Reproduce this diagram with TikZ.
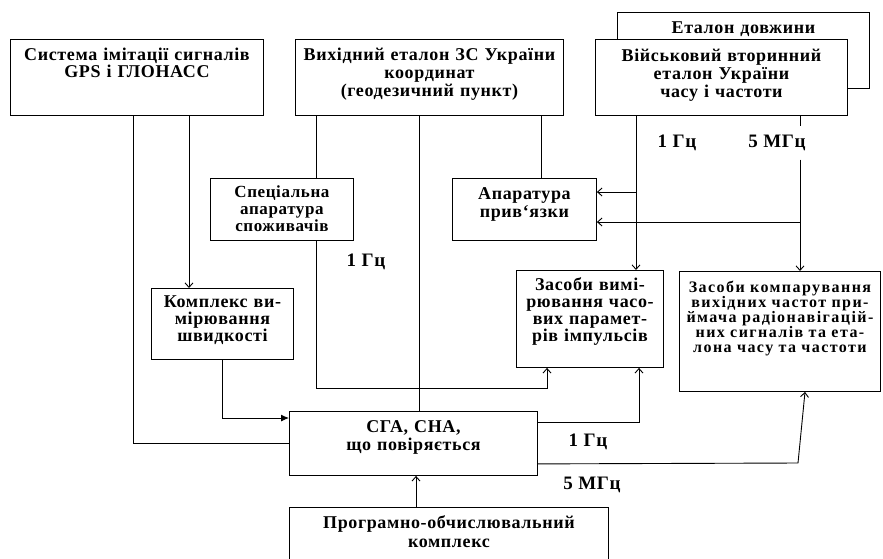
\documentclass[tikz,border=0pt]{standalone}
\usepackage{fontspec}
\setmainfont{Liberation Serif}[LetterSpace=3.5]
\newfontfamily\widefont{Liberation Serif}[LetterSpace=9]
\usetikzlibrary{arrows.meta}

\begin{document}
\begin{tikzpicture}
    [%%%%%%%%%%%%%%%%%%%%%%%%%%%%%%
        x=1pt, y=-1pt,
        box/.style={rectangle,draw=black,line width=0.9pt,fill=white,anchor=north west,
                    align=center,inner xsep=2pt,inner ysep=0pt},
        txt/.style={font=\bfseries\fontsize{18}{#1}\selectfont},
        txts/.style={font=\bfseries\fontsize{17}{#1}\selectfont},
        txtw/.style={font=\widefont\bfseries\fontsize{16}{#1}\selectfont},
        freq/.style={font=\bfseries\fontsize{19}{20}\selectfont,inner sep=1pt},
        wire/.style={line width=0.9pt},
        arr/.style={wire,-{Straight Barb[length=4.5pt,width=8pt]}},
        arrf/.style={wire,-{Latex[length=8pt,width=7pt]}}
    ]%%%%%%%%%%%%%%%%%%%%%%%%%%%%%%
\clip (0,0) rectangle (883,558);
\fill[white] (0,0) rectangle (883,558);

% top row
\node[box,txt=17,text width=249pt,text height=21pt,text depth=55pt] (sys) at (10,39)
    {Система імітації сигналів\\GPS і ГЛОНАСС};
\node[box,txt=18,text width=264pt,text height=21pt,text depth=55pt] (etalon) at (295,39)
    {Вихідний еталон ЗС України\\координат\\(геодезичний пункт)};
\node[box,txt=17,text width=248pt,text height=21pt,text depth=55pt] (len) at (617,12)
    {Еталон довжини};
\node[box,txt=18,text width=248pt,text height=22pt,text depth=54pt] (mil) at (595,39)
    {Військовий вторинний\\еталон України\\часу і частоти};

% middle
\node[box,txts=17,text width=139pt,text height=19pt,text depth=43pt] (spec) at (210,178)
    {Спеціальна\\апаратура\\споживачів};
\node[box,txt=18,text width=140pt,text height=21pt,text depth=41pt] (apar) at (452,178)
    {Апаратура\\прив‘язки};
\node[box,txt=17,text width=138pt,text height=19pt,text depth=52pt] (kompl) at (151,288)
    {Комплекс ви-\\мірювання\\швидкості};
\node[box,txt=17,text width=143pt,text height=20pt,text depth=77pt] (zvym) at (516,270)
    {Засоби вимі-\\рювання часо-\\вих парамет-\\рів імпульсів};
\node[box,txtw=15,inner xsep=1pt,text width=199pt,text height=21pt,text depth=99pt] (zkomp) at (679,271)
    {Засоби компарування\\вихідних частот при-\\ймача радіонавігацій-\\них сигналів та ета-\\лона часу та частоти};

% bottom
\node[box,txt=18,text width=244pt,text height=21pt,text depth=43pt] (sga) at (289,411)
    {СГА, СНА,\\що повіряється};
\node[box,txt=19,text width=315pt,text height=21pt,text depth=60pt] (prog) at (289,507)
    {Програмно-обчислювальний\\комплекс};

% labels
\node[freq] (hzA) at (366,262) {1 Гц};
\node[freq] (hzB) at (677,143) {1 Гц};
\node[freq,minimum height=33pt] (mhzA) at (777,143) {5 МГц};
\node[freq] (hzC) at (588,442) {1 Гц};
\node[freq] (mhzB) at (592,485) {5 МГц};

% columns and bends
\coordinate (cA) at (133,0);
\coordinate (cB) at (189,0);
\coordinate (cC) at (316,0);
\coordinate (cD) at (419,0);
\coordinate (cE) at (541,0);
\coordinate (cF) at (636,0);
\coordinate (cG) at (800,0);
\coordinate (cH) at (639,0);
\coordinate (cI) at (805,0);
\coordinate (cJ) at (416,0);
\coordinate (turnA) at (547,388);
\coordinate (turnB) at (798,463);
\coordinate (tapA) at (636,192);
\coordinate (tapB) at (800,222);

% connections
\draw[wire] (sys.south -| cA) |- (sga.west);
\draw[arr] (sys.south -| cB) -- (kompl.north -| cB);
\draw[arrf] (kompl.south) |- ([yshift=-7pt]sga.north west);
\draw[wire] (etalon.south -| cC) -- (spec.north -| cC);
\draw[wire] (etalon.south -| cD) -- (sga.north -| cD);
\draw[wire] (etalon.south -| cE) -- (apar.north -| cE);
\draw[arr] (spec.south -| cC) |- (turnA) -- (zvym.south -| turnA);
\draw[arr] (mil.south -| cF) -- (zvym.north -| cF);
\draw[arr] (tapA) -- (apar.east |- tapA);
\draw[wire] (mil.south -| cG) -- (mhzA.north -| cG);
\draw[arr] (mhzA.south -| cG) -- (zkomp.north -| cG);
\draw[arr] (tapB) -- (apar.east |- tapB);
\draw[arr] ([yshift=-11pt]sga.north east) -| (zvym.south -| cH);
\draw[arr] ([yshift=12pt]sga.south east) -- (turnB) -- (zkomp.south -| cI);
\draw[arr] (prog.north -| cJ) -- (sga.south -| cJ);

\end{tikzpicture}
\end{document}
